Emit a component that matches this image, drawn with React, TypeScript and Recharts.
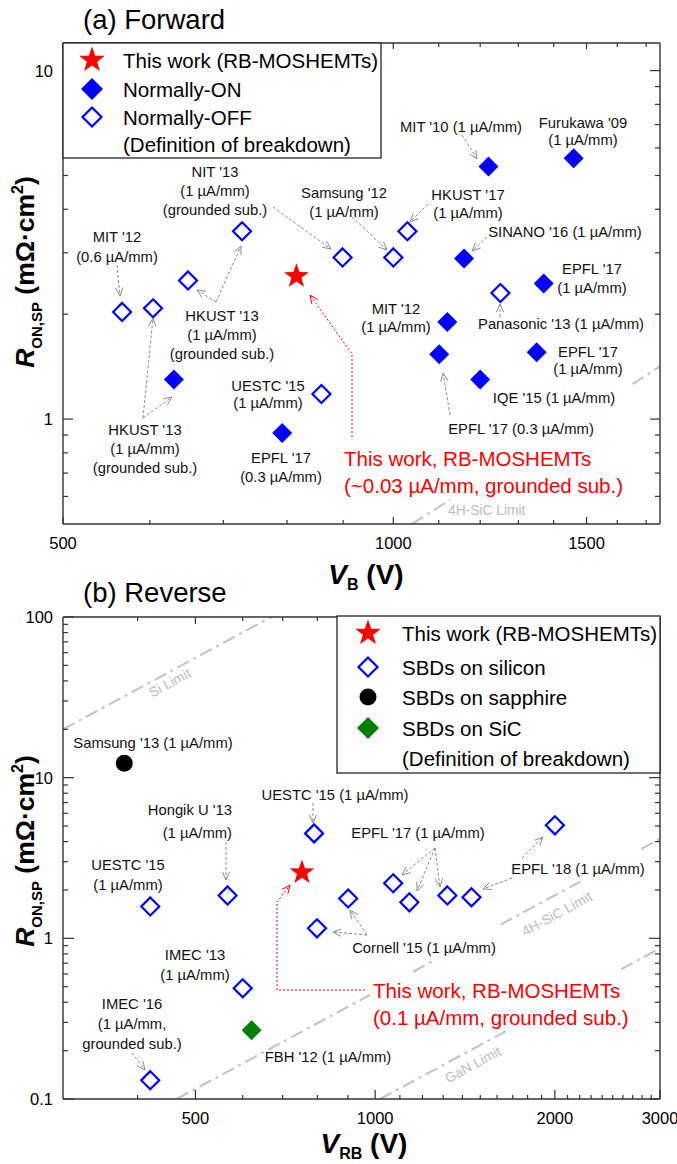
import React from 'react';
import { ScatterChart, Scatter, XAxis, YAxis, ReferenceLine } from 'recharts';

const FONT = '"Liberation Sans", Arial, Helvetica, sans-serif';
const BLUE = '#0000ff';
const RED = '#ff0000';
const GREEN = '#008000';
const LIMIT = '#c6c6c6';
const AXIS = { stroke: '#333', strokeWidth: 1.4 };

// ---- (a) Forward : V_B (V) vs R_on,sp (mOhm cm2)
const fwdThisVB = [816];
const fwdThisRon = [2.57];
const fwdOnVB = [1221, 1460, 1160, 1371, 1120, 1101, 1200, 1351, 631, 792];
const fwdOnRon = [5.31, 5.6, 2.89, 2.45, 1.9, 1.535, 1.3, 1.556, 1.3, 0.912];
const fwdOffVB = [566, 604, 650, 728, 899, 1000, 1030, 1252, 860];
const fwdOffRon = [2.03, 2.08, 2.5, 3.46, 2.91, 2.91, 3.46, 2.3, 1.18];
const fwdSiCLimit = [
  [{ x: 1040, y: 0.5 }, { x: 1127, y: 0.587 }],
  [{ x: 1652, y: 1.26 }, { x: 1750, y: 1.416 }],
];
const fwdXTicks = [500, 600, 700, 800, 900, 1000, 1100, 1200, 1300, 1400, 1500, 1600, 1700];
const fwdXMajor = [500, 1000, 1500];
const fwdYTicks = [0.6, 0.7, 0.8, 0.9, 1, 2, 3, 4, 5, 6, 7, 8, 9, 10];
const fwdYMajor = [1, 10];

// ---- (b) Reverse : V_RB (V) vs R_on,sp
const revThisVB = [754];
const revThisRon = [2.57];
const revSiVB = [420, 566, 600, 420, 790, 799, 901, 1072, 1141, 1321, 1450, 2000];
const revSiRon = [1.58, 1.85, 0.489, 0.131, 4.5, 1.154, 1.77, 2.2, 1.675, 1.85, 1.8, 5.05];
const revSapphireVB = [380];
const revSapphireRon = [12.3];
const revSiCVB = [621];
const revSiCRon = [0.268];
const revSiLimit = [[{ x: 300, y: 20 }, { x: 670, y: 100 }]];
const revSiCLimit = [
  [{ x: 465, y: 0.1 }, { x: 981, y: 0.445 }],
  [{ x: 1158, y: 0.62 }, { x: 1247, y: 0.719 }],
  [{ x: 1622, y: 1.217 }, { x: 2210, y: 2.26 }],
  [{ x: 2790, y: 3.6 }, { x: 3000, y: 4.16 }],
];
const revGaNLimit = [
  [{ x: 1019, y: 0.1 }, { x: 1686, y: 0.274 }],
  [{ x: 2582, y: 0.642 }, { x: 3000, y: 0.867 }],
];
const revXTicks = [
  400, 500, 600, 700, 800, 900, 1000, 1100, 1200, 1300, 1400, 1500, 1600, 1700, 1800, 1900,
  2000, 2100, 2200, 2300, 2400, 2500, 2600, 2700, 2800, 2900, 3000,
];
const revXMajor = [500, 1000, 2000, 3000];
const revYTicks = [
  0.1, 0.2, 0.3, 0.4, 0.5, 0.6, 0.7, 0.8, 0.9, 1, 2, 3, 4, 5, 6, 7, 8, 9, 10, 20, 30, 40, 50, 60, 70,
  80, 90, 100,
];
const revYMajor = [0.1, 1, 10, 100];

const zip = (xs: number[], ys: number[]) => xs.map((x, i) => ({ x, y: ys[i] }));

// ---- marker shapes
const diamond = (cx: number, cy: number, r: number) =>
  `M${cx},${cy - r}L${cx + r},${cy}L${cx},${cy + r}L${cx - r},${cy}Z`;
const starPath = (cx: number, cy: number, R: number) => {
  const r = R * 0.4;
  let d = '';
  for (let i = 0; i < 10; i++) {
    const rad = i % 2 === 0 ? R : r;
    const a = -Math.PI / 2 + (i * Math.PI) / 5;
    d += `${i === 0 ? 'M' : 'L'}${cx + rad * Math.cos(a)},${cy + rad * Math.sin(a)}`;
  }
  return d + 'Z';
};
const StarShape = (p: any) => <path d={starPath(p.cx, p.cy, 13)} fill={RED} />;
const FilledDiamond = (p: any) => <path d={diamond(p.cx, p.cy, 10)} fill={BLUE} />;
const GreenDiamond = (p: any) => <path d={diamond(p.cx, p.cy, 10)} fill={GREEN} />;
const HollowDiamond = (p: any) => (
  <path d={diamond(p.cx, p.cy, 9)} fill="#fff" stroke={BLUE} strokeWidth={2.2} />
);
const BlackDot = (p: any) => <circle cx={p.cx} cy={p.cy} r={8.5} fill="#000" />;

// ---- inward ticks with major / minor lengths
const makeTick =
  (side: 'bottom' | 'top' | 'left' | 'right', majors: number[], labelled: boolean, majLen: number, minLen: number) =>
  (props: any) => {
    const { x, y, payload } = props;
    const v = payload.value;
    const major = majors.includes(v);
    const len = major ? majLen : minLen;
    let line;
    let label = null;
    if (side === 'bottom') {
      line = <line x1={x} y1={y} x2={x} y2={y - len} />;
      if (labelled && major)
        label = (
          <text x={x} y={y + 19} textAnchor="middle" dominantBaseline="central" stroke="none" fill="#000" fontSize={16.5} fontFamily={FONT}>
            {v}
          </text>
        );
    } else if (side === 'top') {
      line = <line x1={x} y1={y} x2={x} y2={y + len} />;
    } else if (side === 'left') {
      line = <line x1={x} y1={y} x2={x + len} y2={y} />;
      if (labelled && major)
        label = (
          <text x={x - 10} y={y} textAnchor="end" dominantBaseline="central" stroke="none" fill="#000" fontSize={16.5} fontFamily={FONT}>
            {v}
          </text>
        );
    } else {
      line = <line x1={x} y1={y} x2={x - len} y2={y} />;
    }
    return (
      <g stroke="#333" strokeWidth={1.2}>
        {line}
        {label}
      </g>
    );
  };

// ---- annotations (pixel positions on the page)
type Note = { x: number; y: number; lines: string[]; gap?: number; anchor?: 'start' | 'middle' | 'end' };
type Pts = number[][];

const notesA: Note[] = [
  { x: 117, y: 237, lines: ["MIT '12", '(0.6 µA/mm)'], gap: 20 },
  { x: 215, y: 172, lines: ["NIT '13", '(1 µA/mm)', '(grounded sub.)'] },
  { x: 344, y: 193, lines: ["Samsung '12", '(1 µA/mm)'] },
  { x: 468, y: 195, lines: ["HKUST '17", '(1 µA/mm)'], gap: 18 },
  { x: 461, y: 127, lines: ["MIT '10 (1 µA/mm)"] },
  { x: 583, y: 123, lines: ["Furukawa '09", '(1 µA/mm)'], gap: 17 },
  { x: 565, y: 232, lines: ["SINANO '16 (1 µA/mm)"] },
  { x: 592, y: 269, lines: ["EPFL '17", '(1 µA/mm)'] },
  { x: 561, y: 324, lines: ["Panasonic '13 (1 µA/mm)"] },
  { x: 396, y: 309, lines: ["MIT '12", '(1 µA/mm)'], gap: 18 },
  { x: 588, y: 352, lines: ["EPFL '17", '(1 µA/mm)'], gap: 17 },
  { x: 554, y: 398, lines: ["IQE '15 (1 µA/mm)"] },
  { x: 521, y: 429, lines: ["EPFL '17 (0.3 µA/mm)"] },
  { x: 222, y: 316, lines: ["HKUST '13", '(1 µA/mm)', '(grounded sub.)'] },
  { x: 145, y: 430, lines: ["HKUST '13", '(1 µA/mm)', '(grounded sub.)'] },
  { x: 268, y: 386, lines: ["UESTC '15", '(1 µA/mm)'], gap: 17 },
  { x: 281, y: 458, lines: ["EPFL '17", '(0.3 µA/mm)'] },
];
const arrowsA: Pts[] = [
  [[117, 265], [120, 296]],
  [[273, 207], [331, 249]],
  [[352, 217], [387, 250]],
  [[428, 204], [410, 222]],
  [[462, 135], [477, 159]],
  [[487, 237], [472, 251]],
  [[500, 317], [500, 304]],
  [[450, 415], [443, 373]],
  [[216, 302], [197, 290]],
  [[216, 302], [241, 246]],
  [[143, 418], [153, 318]],
  [[143, 418], [172, 397]],
];
const redPathA: Pts = [[352, 437], [352, 354], [310, 295]];

const notesB: Note[] = [
  { x: 153, y: 743, lines: ["Samsung '13 (1 µA/mm)"] },
  { x: 232, y: 810, lines: ["Hongik U '13", '(1 µA/mm)'], gap: 23, anchor: 'end' },
  { x: 335, y: 795, lines: ["UESTC '15 (1 µA/mm)"] },
  { x: 128, y: 865, lines: ["UESTC '15", '(1 µA/mm)'], gap: 20 },
  { x: 195, y: 955, lines: ["IMEC '13", '(1 µA/mm)'], gap: 20 },
  { x: 132, y: 1004, lines: ["IMEC '16", '(1 µA/mm,', 'grounded sub.)'], gap: 20 },
  { x: 328, y: 1057, lines: ["FBH '12 (1 µA/mm)"] },
  { x: 418, y: 833, lines: ["EPFL '17 (1 µA/mm)"] },
  { x: 578, y: 869, lines: ["EPFL '18 (1 µA/mm)"] },
  { x: 424, y: 948, lines: ["Cornell '15 (1 µA/mm)"] },
];
const arrowsB: Pts[] = [
  [[226, 842], [226, 880]],
  [[313, 803], [313, 823]],
  [[132, 1053], [145, 1070]],
  [[435, 848], [402, 875]],
  [[435, 848], [417, 891]],
  [[435, 848], [440, 887]],
  [[522, 858], [543, 837]],
  [[512, 878], [483, 889]],
  [[367, 935], [350, 910]],
  [[367, 935], [333, 932]],
];
const redPathB: Pts = [[365, 990], [277, 990], [277, 902], [290, 885]];

const ArrowPath = ({ pts, color, dash }: { pts: Pts; color: string; dash: string }) => {
  const [x1, y1] = pts[pts.length - 2];
  const [x2, y2] = pts[pts.length - 1];
  const a = Math.atan2(y2 - y1, x2 - x1);
  const L = 9;
  const w = 0.42;
  const h1 = [x2 - L * Math.cos(a - w), y2 - L * Math.sin(a - w)];
  const h2 = [x2 - L * Math.cos(a + w), y2 - L * Math.sin(a + w)];
  return (
    <g fill="none" stroke={color} strokeWidth={1}>
      <polyline points={pts.map((p) => p.join(',')).join(' ')} strokeDasharray={dash} />
      <polyline points={`${h1.join(',')} ${x2},${y2} ${h2.join(',')}`} />
    </g>
  );
};

const NoteText = ({ n }: { n: Note }) => (
  <text textAnchor={n.anchor ?? 'middle'} fontSize={14.8} fill="#111" dominantBaseline="central">
    {n.lines.map((l, i) => (
      <tspan key={i} x={n.x} y={n.y + i * (n.gap ?? 19)}>
        {l}
      </tspan>
    ))}
  </text>
);

const YTitle = ({ x, y }: { x: number; y: number }) => (
  <text transform={`translate(${x},${y}) rotate(-90)`} textAnchor="middle" fontWeight="bold" fontSize={26.5} fill="#000">
    <tspan fontStyle="italic">R</tspan>
    <tspan fontSize={15} dy={8}>ON,SP</tspan>
    <tspan dy={-8}> (mΩ·cm</tspan>
    <tspan fontSize={16} dy={-11}>2</tspan>
    <tspan dy={11}>)</tspan>
  </text>
);

const XTitle = ({ x, y, sub }: { x: number; y: number; sub: string }) => (
  <text x={x} y={y} textAnchor="middle" fontWeight="bold" fontSize={28} fill="#000">
    <tspan fontStyle="italic">V</tspan>
    <tspan fontSize={16} dy={6}>{sub}</tspan>
    <tspan dy={-6}> (V)</tspan>
  </text>
);

const LegendRow = ({ x, y, text, marker }: { x: number; y: number; text: string; marker: React.ReactNode }) => (
  <g>
    {marker}
    <text x={x} y={y} fontSize={20.5} fill="#000" dominantBaseline="central">
      {text}
    </text>
  </g>
);

const limitLines = (segs: { x: number; y: number }[][], key: string) =>
  segs.map((s, i) => (
    <ReferenceLine
      key={key + i}
      segment={s}
      stroke={LIMIT}
      strokeWidth={2.2}
      strokeDasharray="13 5 3 5"
      ifOverflow="visible"
    />
  ));

const axisCommon = {
  type: 'number' as const,
  scale: 'log' as const,
  allowDataOverflow: true,
  interval: 0 as const,
  tickSize: 0,
  tickMargin: 0,
  tickLine: false,
  axisLine: AXIS,
};

const App = () => (
  <div style={{ position: 'absolute', left: 0, top: 0, width: 677, height: 1164, background: '#fff', fontFamily: FONT }}>
    <div style={{ position: 'absolute', left: 0, top: 0 }}>
      <ScatterChart width={677} height={580} margin={{ top: 0, right: 0, bottom: 0, left: 0 }}>
        <XAxis {...axisCommon} dataKey="x" domain={[500, 1750]} ticks={fwdXTicks} height={56} tick={makeTick('bottom', fwdXMajor, true, 7, 4)} />
        <XAxis {...axisCommon} xAxisId="top" orientation="top" dataKey="x" domain={[500, 1750]} ticks={fwdXTicks} height={43} tick={makeTick('top', fwdXMajor, false, 6, 4)} />
        <YAxis {...axisCommon} dataKey="y" domain={[0.5, 12]} ticks={fwdYTicks} width={63} tick={makeTick('left', fwdYMajor, true, 10, 5)} />
        <YAxis {...axisCommon} yAxisId="right" orientation="right" dataKey="y" domain={[0.5, 12]} ticks={fwdYTicks} width={17} tick={makeTick('right', fwdYMajor, false, 10, 5)} />
        {limitLines(fwdSiCLimit, 'a')}
        <Scatter name="Normally-OFF" data={zip(fwdOffVB, fwdOffRon)} shape={HollowDiamond} isAnimationActive={false} />
        <Scatter name="Normally-ON" data={zip(fwdOnVB, fwdOnRon)} shape={FilledDiamond} isAnimationActive={false} />
        <Scatter name="This work" data={zip(fwdThisVB, fwdThisRon)} shape={StarShape} isAnimationActive={false} />
      </ScatterChart>
    </div>
    <div style={{ position: 'absolute', left: 0, top: 580 }}>
      <ScatterChart width={677} height={584} margin={{ top: 0, right: 0, bottom: 0, left: 0 }}>
        <XAxis {...axisCommon} dataKey="x" domain={[300, 3000]} ticks={revXTicks} height={65} tick={makeTick('bottom', revXMajor, true, 9, 4)} />
        <XAxis {...axisCommon} xAxisId="top" orientation="top" dataKey="x" domain={[300, 3000]} ticks={revXTicks} height={37} tick={makeTick('top', revXMajor, false, 7, 4)} />
        <YAxis {...axisCommon} dataKey="y" domain={[0.1, 100]} ticks={revYTicks} width={63} tick={makeTick('left', revYMajor, true, 11, 5)} />
        <YAxis {...axisCommon} yAxisId="right" orientation="right" dataKey="y" domain={[0.1, 100]} ticks={revYTicks} width={17} tick={makeTick('right', revYMajor, false, 11, 5)} />
        {limitLines(revSiLimit, 's')}
        {limitLines(revSiCLimit, 'c')}
        {limitLines(revGaNLimit, 'g')}
        <Scatter name="SBDs on silicon" data={zip(revSiVB, revSiRon)} shape={HollowDiamond} isAnimationActive={false} />
        <Scatter name="SBDs on sapphire" data={zip(revSapphireVB, revSapphireRon)} shape={BlackDot} isAnimationActive={false} />
        <Scatter name="SBDs on SiC" data={zip(revSiCVB, revSiCRon)} shape={GreenDiamond} isAnimationActive={false} />
        <Scatter name="This work" data={zip(revThisVB, revThisRon)} shape={StarShape} isAnimationActive={false} />
      </ScatterChart>
    </div>

    <svg width={677} height={1164} style={{ position: 'absolute', left: 0, top: 0, pointerEvents: 'none' }} fontFamily={FONT}>
      {/* titles */}
      <text x={83} y={29} fontSize={27.5} fill="#000">(a) Forward</text>
      <text x={83} y={602} fontSize={27.5} fill="#000">(b) Reverse</text>
      <YTitle x={34} y={272} />
      <YTitle x={34} y={851} />
      <XTitle x={366} y={584} sub="B" />
      <XTitle x={364} y={1153} sub="RB" />

      {/* limit labels */}
      <text x={448} y={510} fontSize={13.8} fill="#bdbdbd" dominantBaseline="central">4H-SiC Limit</text>
      <text transform="translate(170,683) rotate(-28.5)" fontSize={13.8} fill="#bdbdbd" textAnchor="middle" dominantBaseline="central">Si Limit</text>
      <text transform="translate(557,914) rotate(-28.5)" fontSize={13.8} fill="#bdbdbd" textAnchor="middle" dominantBaseline="central">4H-SiC Limit</text>
      <text transform="translate(473,1065) rotate(-28.5)" fontSize={13.8} fill="#bdbdbd" textAnchor="middle" dominantBaseline="central">GaN Limit</text>

      {/* annotations */}
      {arrowsA.map((a, i) => <ArrowPath key={'aa' + i} pts={a} color="#8a8a8a" dash="3 2" />)}
      {arrowsB.map((a, i) => <ArrowPath key={'ab' + i} pts={a} color="#8a8a8a" dash="3 2" />)}
      {notesA.map((n, i) => <NoteText key={'na' + i} n={n} />)}
      {notesB.map((n, i) => <NoteText key={'nb' + i} n={n} />)}
      <ArrowPath pts={redPathA} color={RED} dash="2 2" />
      <ArrowPath pts={redPathB} color={RED} dash="2 2" />
      <text fontSize={20.5} fill={RED} dominantBaseline="central">
        <tspan x={344} y={458}>This work, RB-MOSHEMTs</tspan>
        <tspan x={344} y={485}>(~0.03 µA/mm, grounded sub.)</tspan>
      </text>
      <text fontSize={20.5} fill={RED} dominantBaseline="central">
        <tspan x={373} y={990}>This work, RB-MOSHEMTs</tspan>
        <tspan x={373} y={1017}>(0.1 µA/mm, grounded sub.)</tspan>
      </text>

      {/* legend (a) */}
      <rect x={63} y={43} width={318} height={115} fill="#fff" stroke="#222" strokeWidth={1.3} />
      <LegendRow x={123} y={60} text="This work (RB-MOSHEMTs)" marker={<path d={starPath(92, 60, 13.5)} fill={RED} />} />
      <LegendRow x={123} y={89} text="Normally-ON" marker={<path d={diamond(92, 89, 11)} fill={BLUE} />} />
      <LegendRow x={123} y={117} text="Normally-OFF" marker={<path d={diamond(92, 117, 9.5)} fill="#fff" stroke={BLUE} strokeWidth={2.2} />} />
      <LegendRow x={123} y={144} text="(Definition of breakdown)" marker={null} />

      {/* legend (b) */}
      <rect x={337} y={616} width={323} height={157} fill="#fff" stroke="#222" strokeWidth={1.3} />
      <LegendRow x={402} y={633} text="This work (RB-MOSHEMTs)" marker={<path d={starPath(368, 633, 13.5)} fill={RED} />} />
      <LegendRow x={402} y={667} text="SBDs on silicon" marker={<path d={diamond(368, 667, 9.5)} fill="#fff" stroke={BLUE} strokeWidth={2.2} />} />
      <LegendRow x={402} y={697} text="SBDs on sapphire" marker={<circle cx={368} cy={697} r={8.5} fill="#000" />} />
      <LegendRow x={402} y={728} text="SBDs on SiC" marker={<path d={diamond(368, 728, 11)} fill={GREEN} />} />
      <LegendRow x={402} y={758} text="(Definition of breakdown)" marker={null} />
    </svg>
  </div>
);

export default App;
